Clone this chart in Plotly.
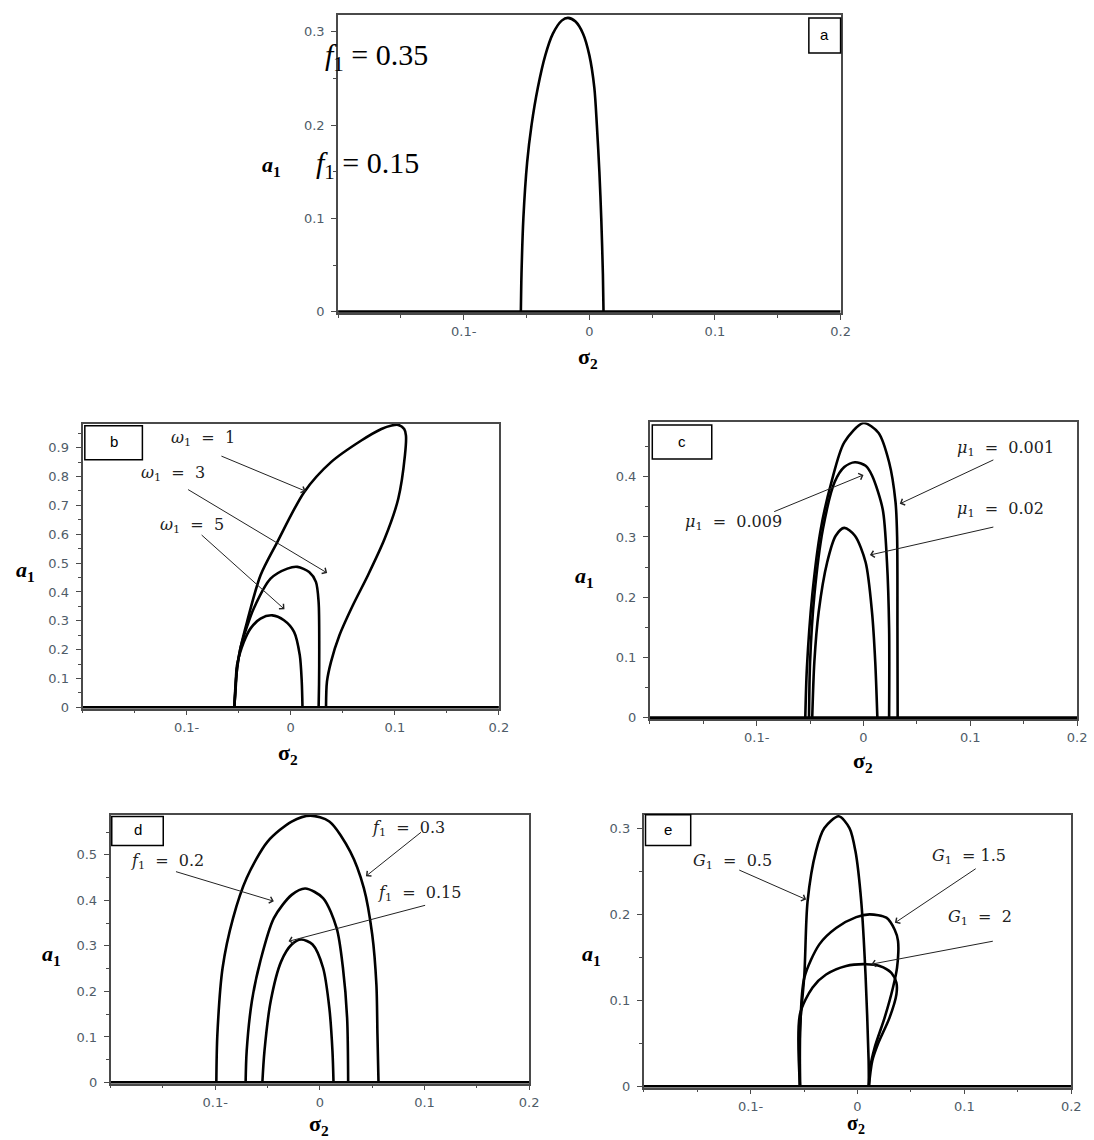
import plotly.graph_objects as go

W, H = 1094, 1140

# ---- data (sigma_2 , a_1) ----
ZERO_SIGMA = [-0.2, 0.2]
ZERO_AMP = [0, 0]

# panel a : single response curve
A_SIGMA = [-0.0545, -0.054, -0.0525, -0.0495, -0.046, -0.041, -0.035, -0.029, -0.022, -0.017,
           -0.011, -0.005, 0.000, 0.004, 0.006, 0.008, 0.0095, 0.0108, 0.0113]
A_AMP = [0, 0.04, 0.10, 0.16, 0.20, 0.24, 0.275, 0.298, 0.312, 0.315,
         0.311, 0.298, 0.275, 0.24, 0.20, 0.15, 0.10, 0.04, 0]

# panel b : omega_1 = 1, 3, 5
W1_SIGMA = [-0.0542, -0.053, -0.0516, -0.048, -0.042, -0.029, -0.0129, 0.0129, 0.0387, 0.0678,
            0.0871, 0.097, 0.1033, 0.109, 0.1107, 0.1097, 0.1033, 0.0903, 0.0742, 0.0597,
            0.0468, 0.0387, 0.0348, 0.0339]
W1_AMP = [0, 0.06, 0.135, 0.21, 0.296, 0.458, 0.573, 0.746, 0.85, 0.925,
          0.965, 0.977, 0.979, 0.965, 0.942, 0.873, 0.723, 0.585, 0.458, 0.354,
          0.25, 0.158, 0.089, 0]
W3_SIGMA = [-0.0542, -0.0525, -0.0484, -0.042, -0.0355, -0.0194, -0.0032, 0.0065, 0.0177, 0.0242,
            0.0268, 0.0274, 0.0272, 0.0268]
W3_AMP = [0, 0.10, 0.204, 0.28, 0.343, 0.446, 0.481, 0.487, 0.469, 0.435,
          0.365, 0.204, 0.08, 0]
W5_SIGMA = [-0.0542, -0.053, -0.0516, -0.045, -0.0387, -0.029, -0.0177, -0.0065, 0.0032, 0.0087,
            0.0106, 0.0113]
W5_AMP = [0, 0.07, 0.146, 0.227, 0.273, 0.308, 0.319, 0.302, 0.262, 0.181,
          0.089, 0]

# panel c : mu_1 = 0.001, 0.009, 0.02
MU1_SIGMA = [-0.0545, -0.053, -0.048, -0.040, -0.030, -0.018, 0.0, 0.014, 0.024, 0.030,
             0.0315, 0.0318, 0.032]
MU1_AMP = [0, 0.082, 0.203, 0.313, 0.391, 0.457, 0.489, 0.473, 0.424, 0.358,
           0.30, 0.15, 0]
MU2_SIGMA = [-0.051, -0.050, -0.046, -0.038, -0.027, -0.018, -0.008, 0.002, 0.008, 0.018,
             0.022, 0.024, 0.024]
MU2_AMP = [0, 0.093, 0.203, 0.313, 0.391, 0.416, 0.424, 0.418, 0.402, 0.346,
           0.258, 0.148, 0]
MU3_SIGMA = [-0.048, -0.046, -0.042, -0.034, -0.026, -0.018, -0.008, 0.002, 0.008, 0.011, 0.013]
MU3_AMP = [0, 0.093, 0.175, 0.258, 0.302, 0.315, 0.302, 0.258, 0.175, 0.093, 0]

# panel d : f_1 = 0.3, 0.2, 0.15
F3_SIGMA = [-0.099, -0.098, -0.093, -0.083, -0.070, -0.050, -0.027, -0.009, 0.009, 0.029,
            0.042, 0.050, 0.054, 0.055, 0.056]
F3_AMP = [0, 0.106, 0.252, 0.361, 0.449, 0.529, 0.573, 0.586, 0.573, 0.507,
          0.427, 0.325, 0.215, 0.106, 0]
F2_SIGMA = [-0.071, -0.070, -0.065, -0.057, -0.044, -0.027, -0.014, 0.003, 0.016, 0.022, 0.026, 0.027]
F2_AMP = [0, 0.069, 0.179, 0.266, 0.361, 0.412, 0.426, 0.405, 0.339, 0.252, 0.142, 0]
F15_SIGMA = [-0.055, -0.053, -0.047, -0.037, -0.027, -0.018, -0.007, 0.003, 0.009, 0.012, 0.013]
F15_AMP = [0, 0.069, 0.179, 0.266, 0.303, 0.314, 0.303, 0.252, 0.164, 0.069, 0]

# panel e : G_1 = 0.5, 1.5, 2
G05_SIGMA = [-0.0538, -0.0538, -0.0497, -0.0467, -0.0389, -0.031, -0.0176, -0.0075, -0.0019, 0.0035,
             0.0075, 0.0104, 0.0106]
G05_AMP = [0, 0.068, 0.130, 0.215, 0.273, 0.300, 0.3137, 0.300, 0.273, 0.215,
           0.130, 0.03, 0]
G15_SIGMA = [-0.0538, -0.0535, -0.0498, -0.0357, -0.020, -0.0012, 0.0113, 0.027, 0.0348, 0.0379,
             0.037, 0.0332, 0.0254, 0.016, 0.0119, 0.0106]
G15_AMP = [0, 0.07, 0.126, 0.165, 0.184, 0.1966, 0.1998, 0.196, 0.182, 0.169,
           0.138, 0.115, 0.080, 0.045, 0.022, 0]
G2_SIGMA = [-0.0538, -0.0538, -0.042, -0.0294, -0.0106, 0.0082, 0.0207, 0.0317, 0.0364, 0.0364,
            0.030, 0.019, 0.0138, 0.0106]
G2_AMP = [0, 0.084, 0.115, 0.130, 0.140, 0.142, 0.140, 0.132, 0.1205, 0.107,
          0.080, 0.049, 0.0298, 0]

X_TICK_VALS = [-0.1, 0, 0.1, 0.2]
X_TICK_TEXT = ["0.1-", "0", "0.1", "0.2"]
PANEL_TAGS = ["a", "b", "c", "d", "e"]
Y_TOPS = [0.318, 0.982, 0.49, 0.588, 0.3155]

CURVES = [
    [(A_SIGMA, A_AMP)],
    [(W1_SIGMA, W1_AMP), (W3_SIGMA, W3_AMP), (W5_SIGMA, W5_AMP)],
    [(MU1_SIGMA, MU1_AMP), (MU2_SIGMA, MU2_AMP), (MU3_SIGMA, MU3_AMP)],
    [(F3_SIGMA, F3_AMP), (F2_SIGMA, F2_AMP), (F15_SIGMA, F15_AMP)],
    [(G05_SIGMA, G05_AMP), (G15_SIGMA, G15_AMP), (G2_SIGMA, G2_AMP)],
]

# curve labels: panel, text, text pos, arrow tail, arrow head (data coords)
LABELS = [
    (2, "<i>ω</i><sub>1</sub>  =  1", (-0.084, 0.931), (-0.068, 0.873), (0.0145, 0.749)),
    (2, "<i>ω</i><sub>1</sub>  =  3", (-0.113, 0.810), (-0.100, 0.758), (0.035, 0.466)),
    (2, "<i>ω</i><sub>1</sub>  =  5", (-0.095, 0.631), (-0.087, 0.602), (-0.006, 0.340)),
    (3, "<i>μ</i><sub>1</sub>  =  0.001", (0.133, 0.446), (0.123, 0.429), (0.034, 0.355)),
    (3, "<i>μ</i><sub>1</sub>  =  0.009", (-0.122, 0.324), (-0.085, 0.341), (0.0, 0.403)),
    (3, "<i>μ</i><sub>1</sub>  =  0.02", (0.128, 0.346), (0.123, 0.317), (0.006, 0.270)),
    (4, "<i>f</i><sub>1</sub>  =  0.3", (0.085, 0.558), (0.098, 0.552), (0.044, 0.453)),
    (4, "<i>f</i><sub>1</sub>  =  0.2", (-0.146, 0.485), (-0.139, 0.464), (-0.044, 0.398)),
    (4, "<i>f</i><sub>1</sub>  =  0.15", (0.095, 0.416), (0.102, 0.390), (-0.030, 0.310)),
    (5, "<i>G</i><sub>1</sub>  =  0.5", (-0.117, 0.261), (-0.112, 0.252), (-0.048, 0.217)),
    (5, "<i>G</i><sub>1</sub>  = 1.5", (0.104, 0.267), (0.112, 0.254), (0.035, 0.190)),
    (5, "<i>G</i><sub>1</sub>  =  2", (0.115, 0.196), (0.128, 0.169), (0.013, 0.142)),
]

# ---- layout in pixels of the reference page ----
BOXES = [  # left, right, top, bottom (pixels)
    (338.8, 842.4, 15.0, 312.3),
    (82.7, 500.0, 423.3, 707.3),
    (651.3, 1079.4, 421.7, 717.7),
    (110.9, 530.3, 813.3, 1081.7),
    (645.1, 1073.6, 813.3, 1085.7),
]
TAG_BOXES = [
    (810.6, 842.4, 18, 53),
    (85, 142.7, 425, 459),
    (653.7, 713.3, 424.3, 458.3),
    (112, 163.6, 815, 844),
    (646.9, 692.2, 813.3, 844),
]
SIGMA_TITLE_POS = [(589, 357), (289, 753), (865, 761), (320, 1123), (858, 1123)]
SIGMA_TITLE_SIZE = [22, 22, 22, 22, 20]
A_TITLE_POS = [(272, 166), (26, 570), (586, 576), (52, 953), (593, 953)]

# the captured page comes out a little smaller than the figure; pre-stretch positions
SHOT_SCALE = 0.993


def px(x):
    return x / SHOT_SCALE / W


def py(y):
    return 1 - y / SHOT_SCALE / H


def paper_text(x, y, text, font):
    return dict(xref="paper", yref="paper", x=px(x), y=py(y), xanchor="center", yanchor="middle",
                text=text, showarrow=False, font=font)


fig = go.Figure()
layout = dict(
    width=W, height=H, margin=dict(l=0, r=0, t=0, b=0),
    paper_bgcolor="white", plot_bgcolor="white", showlegend=False,
    shapes=[], annotations=[],
)

tick_font = dict(family="DejaVu Sans", size=13, color="#4f5c68")
label_font = dict(family="DejaVu Serif", size=16, color="#222")

for i, (box, curves) in enumerate(zip(BOXES, CURVES), start=1):
    xa, ya = f"x{i}", f"y{i}"
    l, r, t, b = box
    top = Y_TOPS[i - 1]
    axis_common = dict(showgrid=False, zeroline=False, showline=True, mirror=True,
                       linecolor="#4a4a4a", linewidth=1.8, ticks="outside", ticklen=5,
                       tickcolor="#4a4a4a", tickfont=tick_font)
    minor = dict(tickmode="linear", tick0=0, dtick=0.05, ticks="outside", ticklen=3, tickcolor="#4a4a4a")
    layout[f"xaxis{i}"] = dict(axis_common, domain=[px(l), px(r)], anchor=ya, range=[-0.2, 0.2],
                               tickmode="array", tickvals=X_TICK_VALS, ticktext=X_TICK_TEXT,
                               ticklabelstandoff=1, minor=minor)
    layout[f"yaxis{i}"] = dict(axis_common, domain=[py(b), py(t)], anchor=xa,
                               range=[-0.004 * top, top], tickmode="linear", tick0=0, dtick=0.1,
                               ticklabelstandoff=4, minor=minor)

    fig.add_trace(go.Scatter(x=ZERO_SIGMA, y=ZERO_AMP, mode="lines", xaxis=xa, yaxis=ya,
                             line=dict(color="black", width=3), hoverinfo="skip"))
    for sig, amp in curves:
        fig.add_trace(go.Scatter(x=sig, y=amp, mode="lines", xaxis=xa, yaxis=ya,
                                 line=dict(color="black", width=2.6, shape="spline", smoothing=0.8),
                                 hoverinfo="skip"))

    # panel tag box
    tl, tr, tt, tb = TAG_BOXES[i - 1]
    layout["shapes"].append(dict(type="rect", xref="paper", yref="paper",
                                 x0=px(tl), x1=px(tr), y0=py(tb), y1=py(tt),
                                 line=dict(color="black", width=1.5), fillcolor="white"))
    layout["annotations"].append(paper_text((tl + tr) / 2, (tt + tb) / 2 - 1, PANEL_TAGS[i - 1],
                                            dict(family="Liberation Sans", size=15, color="black")))

    # axis titles
    sx, sy = SIGMA_TITLE_POS[i - 1]
    layout["annotations"].append(paper_text(sx, sy, "<b>σ<sub>2</sub></b>",
                                            dict(family="Liberation Serif", size=SIGMA_TITLE_SIZE[i - 1],
                                                 color="black")))
    ax_, ay_ = A_TITLE_POS[i - 1]
    layout["annotations"].append(paper_text(ax_, ay_, "<b><i>a</i><sub>1</sub></b>",
                                            dict(family="Liberation Serif", size=22, color="black")))

for panel, text, tpos, tail, head in LABELS:
    xa, ya = f"x{panel}", f"y{panel}"
    layout["annotations"].append(dict(xref=xa, yref=ya, x=tpos[0], y=tpos[1], text=text,
                                      xanchor="center", yanchor="middle", showarrow=False,
                                      font=label_font))
    layout["annotations"].append(dict(xref=xa, yref=ya, axref=xa, ayref=ya,
                                      x=head[0], y=head[1], ax=tail[0], ay=tail[1], text="",
                                      showarrow=True, arrowhead=4, arrowsize=1.3, arrowwidth=1,
                                      arrowcolor="#222"))

# the two overlaid parameter notes on panel a
for text, (cx, cy) in [("<i>f</i><sub>1</sub> = 0.35", (377, 57)), ("<i>f</i><sub>1</sub> = 0.15", (368, 165))]:
    layout["annotations"].append(paper_text(cx, cy, text,
                                            dict(family="Liberation Serif", size=30, color="black")))

fig.update_layout(**layout)
# the page body has a default margin and may grow scrollbars; remove both so the figure fills the window
fig.write_html("out.html", config={"displayModeBar": False},
               post_script="document.body.style.margin='0';"
                           "document.body.style.overflow='hidden';"
                           "document.documentElement.style.overflow='hidden';")
